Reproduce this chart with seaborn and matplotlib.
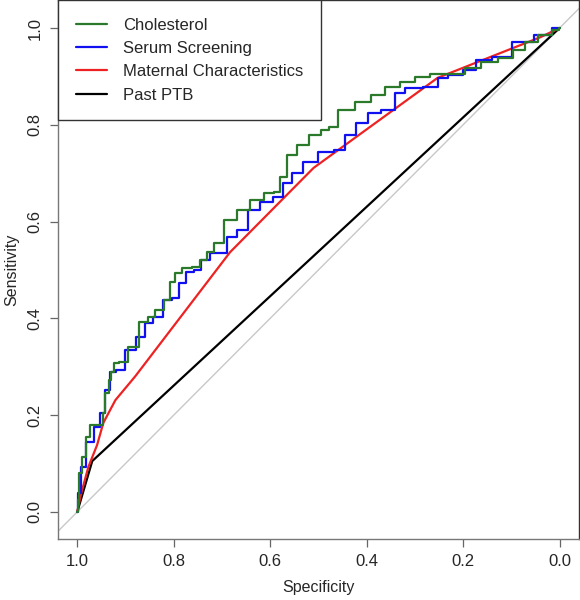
import matplotlib
matplotlib.use("Agg")
import matplotlib.pyplot as plt
import seaborn as sns
import pandas as pd

# ROC curves (specificity, sensitivity)
chol_spec = [1.0, 0.998, 0.994, 0.988, 0.977, 0.969, 0.948, 0.946, 0.938, 0.932, 0.928, 0.921,
             0.905, 0.884, 0.859, 0.849, 0.828, 0.812, 0.803, 0.793, 0.772, 0.752, 0.739, 0.725,
             0.71, 0.683, 0.656, 0.627, 0.6, 0.586, 0.574, 0.555, 0.532, 0.507, 0.482, 0.476,
             0.441, 0.408, 0.373, 0.352, 0.311, 0.29, 0.248, 0.213, 0.18, 0.145, 0.11, 0.083,
             0.062, 0.027, 0.004, 0.0]
chol_sens = [0.0, 0.025, 0.08, 0.114, 0.155, 0.18, 0.18, 0.205, 0.246, 0.273, 0.289, 0.308,
             0.31, 0.341, 0.393, 0.403, 0.417, 0.438, 0.475, 0.494, 0.504, 0.506, 0.52, 0.537,
             0.556, 0.603, 0.624, 0.645, 0.659, 0.661, 0.692, 0.738, 0.758, 0.779, 0.789, 0.795,
             0.831, 0.847, 0.862, 0.878, 0.888, 0.899, 0.905, 0.905, 0.917, 0.93, 0.938, 0.955,
             0.971, 0.986, 0.996, 1.0]

serum_spec = [1.0, 0.996, 0.99, 0.973, 0.959, 0.948, 0.936, 0.928, 0.911, 0.89, 0.865, 0.853,
              0.834, 0.812, 0.797, 0.783, 0.766, 0.75, 0.735, 0.714, 0.698, 0.683, 0.656, 0.636,
              0.607, 0.58, 0.565, 0.545, 0.518, 0.482, 0.455, 0.435, 0.408, 0.387, 0.352, 0.331,
              0.311, 0.255, 0.248, 0.213, 0.186, 0.159, 0.12, 0.077, 0.03, 0.0]
serum_sens = [0.0, 0.04, 0.093, 0.145, 0.176, 0.205, 0.252, 0.289, 0.293, 0.335, 0.362, 0.39,
              0.403, 0.438, 0.442, 0.473, 0.496, 0.5, 0.52, 0.535, 0.535, 0.568, 0.583, 0.624,
              0.64, 0.651, 0.68, 0.7, 0.723, 0.744, 0.748, 0.779, 0.804, 0.824, 0.83, 0.866,
              0.876, 0.878, 0.897, 0.903, 0.913, 0.934, 0.94, 0.971, 0.986, 1.0]

mat_spec = [1.0, 0.994, 0.977, 0.959, 0.946, 0.921, 0.88, 0.683, 0.51, 0.253, 0.04, 0.0]
mat_sens = [0.0, 0.03, 0.093, 0.138, 0.184, 0.231, 0.28, 0.537, 0.711, 0.897, 0.981, 1.0]

ptb_spec = [1.0, 0.969, 0.0]
ptb_sens = [0.0, 0.105, 1.0]

labels = ["Cholesterol", "Serum Screening", "Maternal Characteristics", "Past PTB"]
colors = ["#2b7a2b", "#1010f0", "#ee2222", "#000000"]
# empirical curves are staircases, the model curves are straight segments
styles = ["steps-mid", "steps-mid", "default", "default"]

sns.set_style("ticks")
plt.rcParams["font.family"] = ["Liberation Sans", "DejaVu Sans"]

fig = plt.figure(figsize=(5.8, 6.0), dpi=100)
ax = fig.add_axes([0.1, 0.1017, 0.898, 0.8983])

ax.axline((1, 0), (0, 1), color="#c8c8c8", lw=1.0, zorder=1)

curves = [(chol_spec, chol_sens), (serum_spec, serum_sens), (mat_spec, mat_sens), (ptb_spec, ptb_sens)]
for i in [3, 2, 1, 0]:
    df = pd.DataFrame({"spec": curves[i][0], "sens": curves[i][1]})
    sns.lineplot(data=df, x="spec", y="sens", sort=False, estimator=None, color=colors[i],
                 lw=1.6, ax=ax, label=labels[i], zorder=3 + (3 - i), drawstyle=styles[i])

ax.set_xlim(1.04, -0.04)
ax.set_ylim(-0.056, 1.058)
ax.set_xticks([1.0, 0.8, 0.6, 0.4, 0.2, 0.0])
ax.set_yticks([0.0, 0.2, 0.4, 0.6, 0.8, 1.0])
ax.set_xticklabels(["1.0", "0.8", "0.6", "0.4", "0.2", "0.0"])
ax.set_yticklabels(["0.0", "0.2", "0.4", "0.6", "0.8", "1.0"], rotation=90, va="center")
ax.tick_params(axis="both", length=6, width=0.9, color="#666666", labelsize=12, pad=5)
ax.set_xlabel("Specificity", fontsize=11.5, labelpad=8)
ax.set_ylabel("Sensitivity", fontsize=11.5, labelpad=6)

for side in ["left", "bottom"]:
    ax.spines[side].set_color("#777777")
for side in ["top", "right"]:
    ax.spines[side].set_color("#333333")
for s in ax.spines.values():
    s.set_linewidth(1.0)

handles, labs = ax.get_legend_handles_labels()
hmap = dict(zip(labs, handles))
leg = ax.legend([hmap[l] for l in labels], labels, loc="upper left", fontsize=12,
                frameon=True, fancybox=False, edgecolor="#333333", framealpha=1,
                borderaxespad=0, handlelength=1.9, handletextpad=0.95, labelspacing=0.5,
                borderpad=1.05)
leg.get_frame().set_linewidth(1.0)

fig.savefig("out.png", dpi=100)
